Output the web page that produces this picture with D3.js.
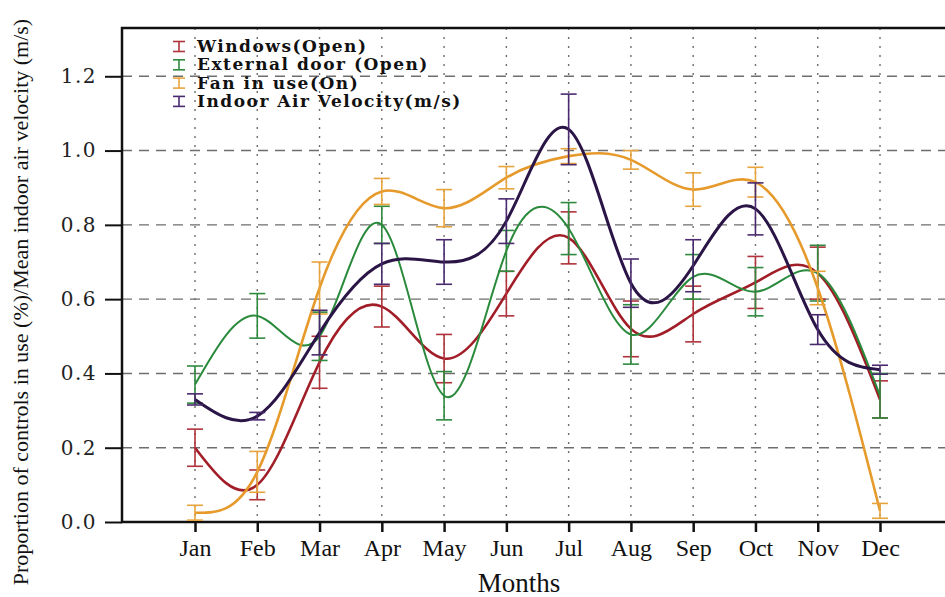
<!DOCTYPE html>
<html>
<head>
<meta charset="utf-8">
<script src="https://cdn.jsdelivr.net/npm/d3@7"></script>
<style>
  html, body { margin: 0; padding: 0; background: #fff; }
  svg { display: block; }
</style>
</head>
<body>
<svg id="chart" width="945" height="597"></svg>
<script>
const months = ["Jan","Feb","Mar","Apr","May","Jun","Jul","Aug","Sep","Oct","Nov","Dec"];
const yTicks = [0.0, 0.2, 0.4, 0.6, 0.8, 1.0, 1.2];

const seriesNames = ["Windows(Open)", "External door (Open)", "Fan in use(On)", "Indoor Air Velocity(m/s)"];
const seriesColors = ["#a11d27", "#2a8a3c", "#e69a2c", "#2a1546"];
const errColors = ["#b0323a", "#2f8a3f", "#e8a43c", "#4a2a6e"];

const windowsVals = [0.20, 0.10, 0.43, 0.58, 0.44, 0.615, 0.765, 0.52, 0.56, 0.645, 0.67, 0.33];
const windowsErr  = [0.05, 0.04, 0.07, 0.055, 0.065, 0.06, 0.07, 0.075, 0.075, 0.07, 0.07, 0.05];

const doorVals = [0.37, 0.555, 0.50, 0.80, 0.34, 0.73, 0.79, 0.505, 0.66, 0.62, 0.67, 0.34];
const doorErr  = [0.05, 0.06, 0.065, 0.05, 0.065, 0.055, 0.07, 0.08, 0.06, 0.065, 0.075, 0.06];

const fanVals = [0.025, 0.135, 0.63, 0.89, 0.845, 0.927, 0.985, 0.975, 0.895, 0.915, 0.63, 0.03];
const fanErr  = [0.02, 0.055, 0.07, 0.035, 0.05, 0.03, 0.02, 0.025, 0.045, 0.04, 0.045, 0.02];

const velVals = [0.33, 0.285, 0.51, 0.695, 0.70, 0.81, 1.057, 0.643, 0.69, 0.843, 0.518, 0.41];
const velErr  = [0.015, 0.01, 0.06, 0.055, 0.06, 0.06, 0.095, 0.065, 0.07, 0.07, 0.04, 0.012];

const allVals = [windowsVals, doorVals, fanVals, velVals];
const allErr = [windowsErr, doorErr, fanErr, velErr];
const lineWidths = [2.6, 2.0, 2.6, 3.0];

const svg = d3.select("#chart");
const pLeft = 122, pRight = 960, pTop = 28, pBottom = 522;

const x = d3.scalePoint().domain(months).range([195, 880]);
const y = d3.scaleLinear().domain([0, 1.33]).range([pBottom, pTop]);

// gridlines
const grid = svg.append("g");
grid.selectAll("line.h").data(yTicks.filter(d => d > 0)).enter().append("line")
  .attr("x1", pLeft).attr("x2", pRight)
  .attr("y1", d => y(d)).attr("y2", d => y(d))
  .attr("stroke", "#6e6e6e").attr("stroke-width", 1.4).attr("stroke-dasharray", "10,7");
grid.selectAll("line.v").data(months).enter().append("line")
  .attr("x1", d => x(d)).attr("x2", d => x(d))
  .attr("y1", pTop).attr("y2", pBottom)
  .attr("stroke", "#6e6e6e").attr("stroke-width", 1.4).attr("stroke-dasharray", "2,7");

// axes
const yAxis = d3.axisLeft(y).tickValues(yTicks).tickFormat(d3.format(".1f")).tickSize(17).tickPadding(8);
const gy = svg.append("g").attr("transform", `translate(${pLeft},0)`).call(yAxis);
gy.select(".domain").remove();
gy.selectAll(".tick line").attr("stroke", "#111").attr("stroke-width", 2);
gy.selectAll(".tick text").attr("font-family", "DejaVu Serif").attr("font-size", 20)
  .attr("fill", "#222").attr("letter-spacing", 1.5);

const xAxis = d3.axisBottom(x).tickSize(10).tickPadding(7);
const gx = svg.append("g").attr("transform", `translate(0,${pBottom})`).call(xAxis);
gx.select(".domain").remove();
gx.selectAll(".tick line").attr("stroke", "#111").attr("stroke-width", 2.5);
gx.selectAll(".tick text").attr("font-family", "Liberation Serif").attr("font-size", 24)
  .attr("fill", "#111");

// frame
svg.append("path")
  .attr("d", `M${pRight},${pTop} H${pLeft} V${pBottom} H${pRight}`)
  .attr("fill", "none").attr("stroke", "#111").attr("stroke-width", 2.5);

// series
const line = d3.line().x((d, i) => x(months[i])).y(d => y(d)).curve(d3.curveNatural);
const capW = 8;
allVals.forEach((vals, s) => {
  const g = svg.append("g");
  g.append("path").datum(vals).attr("d", line)
    .attr("fill", "none").attr("stroke", seriesColors[s]).attr("stroke-width", lineWidths[s]);
  const eb = g.selectAll("g.eb").data(vals).enter().append("g");
  eb.append("line")
    .attr("x1", (d, i) => x(months[i])).attr("x2", (d, i) => x(months[i]))
    .attr("y1", (d, i) => y(d + allErr[s][i])).attr("y2", (d, i) => y(d - allErr[s][i]))
    .attr("stroke", errColors[s]).attr("stroke-width", 1.6);
  [1, -1].forEach(sign => {
    eb.append("line")
      .attr("x1", (d, i) => x(months[i]) - capW).attr("x2", (d, i) => x(months[i]) + capW)
      .attr("y1", (d, i) => y(d + sign * allErr[s][i])).attr("y2", (d, i) => y(d + sign * allErr[s][i]))
      .attr("stroke", errColors[s]).attr("stroke-width", 1.6);
  });
});

// legend
const leg = svg.append("g").attr("transform", "translate(179,46.5)");
seriesNames.forEach((name, i) => {
  const row = leg.append("g").attr("transform", `translate(0,${i * 18.3})`);
  row.append("line").attr("x1", 0).attr("x2", 0).attr("y1", -5).attr("y2", 5)
    .attr("stroke", errColors[i]).attr("stroke-width", 1.6);
  row.append("line").attr("x1", -6).attr("x2", 6).attr("y1", -5).attr("y2", -5)
    .attr("stroke", errColors[i]).attr("stroke-width", 1.6);
  row.append("line").attr("x1", -6).attr("x2", 6).attr("y1", 5).attr("y2", 5)
    .attr("stroke", errColors[i]).attr("stroke-width", 1.6);
  row.append("text").attr("x", 18).attr("y", 5.5)
    .attr("font-family", "DejaVu Serif").attr("font-weight", "bold").attr("font-size", 17)
    .attr("letter-spacing", 1.5)
    .attr("fill", "#111").text(name);
});

// axis titles
svg.append("text").attr("x", 519).attr("y", 592).attr("text-anchor", "middle")
  .attr("font-family", "Liberation Serif").attr("font-size", 27).attr("fill", "#111").text("Months");
svg.append("text").attr("transform", "translate(28,302) rotate(-90)").attr("text-anchor", "middle")
  .attr("font-family", "Liberation Serif").attr("font-size", 22).attr("fill", "#111")
  .text("Proportion of controls in use (%)/Mean indoor air velocity (m/s)");
</script>
</body>
</html>
